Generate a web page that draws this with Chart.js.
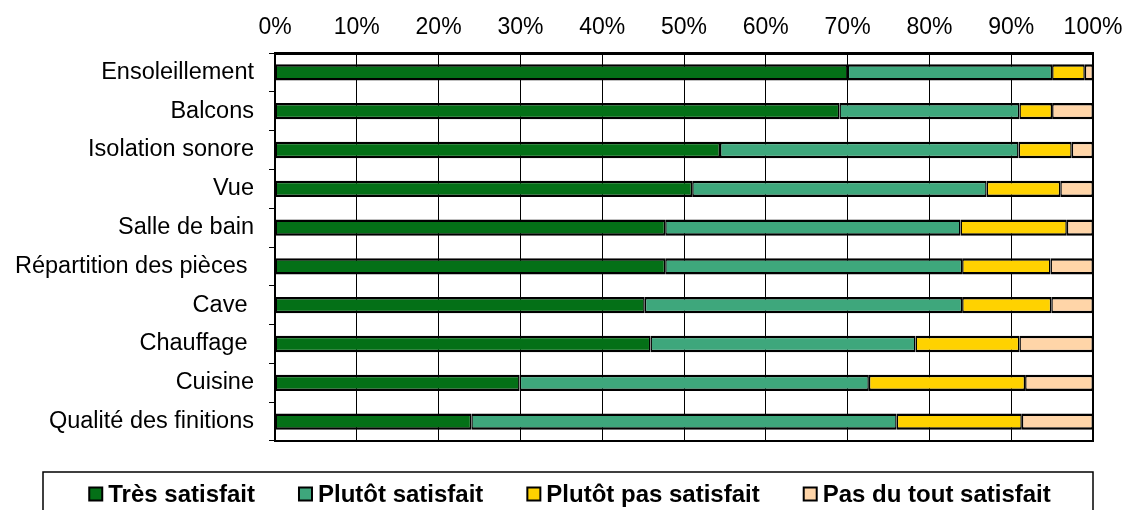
<!DOCTYPE html>
<html>
<head>
<meta charset="utf-8">
<script src="https://cdn.jsdelivr.net/npm/chart.js@4"></script>
<style>
  html, body { margin: 0; padding: 0; background: #fff; }
  #wrap { width: 1127px; height: 510px; }
</style>
</head>
<body>
<div id="wrap"><canvas id="chart"></canvas></div>
<script>
// categories (top to bottom); some labels carry a trailing space as in the source
const categories = ['Ensoleillement', 'Balcons', 'Isolation sonore', 'Vue', 'Salle de bain',
  'Répartition des pièces ', 'Cave ', 'Chauffage ', 'Cuisine', 'Qualité des finitions'];

// shares in %
const tresSatisfait = [70, 69, 54.4, 51, 47.7, 47.7, 45.2, 45.9, 29.9, 24];
const plutotSatisfait = [25, 22, 36.5, 36, 36.1, 36.3, 38.8, 32.4, 42.7, 52];
const plutotPasSatisfait = [4, 4, 6.5, 9, 13, 10.8, 10.9, 12.7, 19.1, 15.3];
const pasDuToutSatisfait = [1, 5, 2.6, 4, 3.2, 5.2, 5.1, 9, 8.3, 8.7];

const seriesNames = ['Très satisfait', 'Plutôt satisfait', 'Plutôt pas satisfait', 'Pas du tout satisfait'];
const seriesColors = ['#047017', '#3ea77c', '#ffd200', '#ffd5a8'];

const fontFamily = 'Arial, "Liberation Sans", sans-serif';

const makeSet = (i, values) => ({
    label: seriesNames[i],
    data: values,
    backgroundColor: seriesColors[i],
    borderColor: '#000',
    borderWidth: { top: 2.5, bottom: 2.5, left: 1.5, right: 1.5 },
    borderSkipped: false,
    barPercentage: 0.42,
    categoryPercentage: 1
});

// frame round the plot area + boxed legend below
const framePlugin = {
    id: 'frame',
    afterDraw(chart) {
        const ctx = chart.ctx;
        const a = chart.chartArea;
        ctx.save();
        ctx.strokeStyle = '#000';
        ctx.lineWidth = 2;
        ctx.strokeRect(a.left, a.top, a.right - a.left, a.bottom - a.top);

        // legend box
        const boxLeft = 43, boxRight = 1093, boxTop = 472;
        ctx.lineWidth = 1.5;
        ctx.strokeRect(boxLeft, boxTop, boxRight - boxLeft, 60);

        ctx.font = 'bold 24px ' + fontFamily;
        ctx.textBaseline = 'middle';
        const marker = 13, markerGap = 6, itemGap = 44;
        const widths = seriesNames.map(n => ctx.measureText(n).width);
        const total = widths.reduce((s, w) => s + marker + markerGap + w, 0) + itemGap * (seriesNames.length - 1);
        let x = (boxLeft + boxRight) / 2 - total / 2 + 2;
        const y = 494;
        seriesNames.forEach((name, i) => {
            ctx.fillStyle = seriesColors[i];
            ctx.fillRect(x, y - marker / 2, marker, marker);
            ctx.lineWidth = 2;
            ctx.strokeStyle = '#000';
            ctx.strokeRect(x, y - marker / 2, marker, marker);
            ctx.fillStyle = '#000';
            ctx.fillText(name, x + marker + markerGap, y + 1);
            x += marker + markerGap + widths[i] + itemGap;
        });
        ctx.restore();
    }
};

const ctx = document.getElementById('chart').getContext('2d');
new Chart(ctx, {
    type: 'bar',
    data: {
        labels: categories,
        datasets: [
            makeSet(0, tresSatisfait),
            makeSet(1, plutotSatisfait),
            makeSet(2, plutotPasSatisfait),
            makeSet(3, pasDuToutSatisfait)
        ]
    },
    options: {
        indexAxis: 'y',
        responsive: true,
        maintainAspectRatio: false,
        animation: false,
        layout: { padding: { left: 0, right: 34, top: 0, bottom: 69 } },
        plugins: {
            legend: { display: false },
            tooltip: { enabled: false }
        },
        scales: {
            x: {
                position: 'top',
                stacked: true,
                min: 0,
                max: 100,
                afterFit(scale) {
                    scale.height = 53;
                    scale.paddingLeft = 0;
                    scale.paddingRight = 0;
                },
                ticks: {
                    stepSize: 10,
                    color: '#000',
                    padding: 12,
                    font: { family: fontFamily, size: 23 },
                    callback: v => v + '%'
                },
                grid: { color: '#000', lineWidth: 1, drawTicks: false },
                border: { color: '#000', width: 3 }
            },
            y: {
                stacked: true,
                afterFit(scale) { scale.width = 275; },
                ticks: {
                    color: '#000',
                    padding: 15,
                    font: { family: fontFamily, size: 23.5 }
                },
                grid: { display: true, drawOnChartArea: false, color: '#000', tickLength: 6, offset: true },
                border: { color: '#000', width: 2 }
            }
        }
    },
    plugins: [framePlugin]
});
</script>
</body>
</html>
